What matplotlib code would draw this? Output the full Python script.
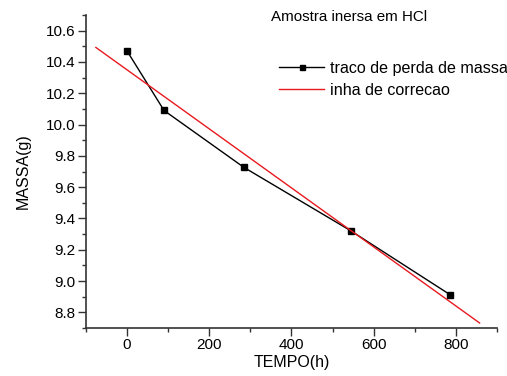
import matplotlib.pyplot as plt
from matplotlib.ticker import MultipleLocator

# data
tempo = [0, 90, 284, 544, 786]
massa = [10.47, 10.09, 9.727, 9.322, 8.913]

fit_x = [-76, 858]
fit_y = [10.493, 8.732]

plt.rcParams['font.family'] = ['Liberation Sans', 'DejaVu Sans']
plt.rcParams['font.size'] = 11

fig = plt.figure(figsize=(5.07, 3.76), dpi=100)
ax = fig.add_axes([0.1696, 0.1277, 0.8104, 0.8323])

ax.plot(tempo, massa, color='black', linewidth=1, marker='s', markersize=4.5,
        label='traco de perda de massa')
ax.plot(fit_x, fit_y, color='#e8191e', linewidth=1, label='inha de correcao')

ax.set_xlim(-100, 900)
ax.set_ylim(8.7, 10.7)
ax.xaxis.set_major_locator(MultipleLocator(200))
ax.xaxis.set_minor_locator(MultipleLocator(100))
ax.yaxis.set_major_locator(MultipleLocator(0.2))
ax.yaxis.set_minor_locator(MultipleLocator(0.1))
ax.yaxis.set_major_formatter(plt.FormatStrFormatter('%.1f'))

ax.spines['top'].set_visible(False)
ax.spines['right'].set_visible(False)
for s in ('left', 'bottom'):
    ax.spines[s].set_color('#333333')
    ax.spines[s].set_linewidth(1.2)
ax.tick_params(which='major', direction='out', length=5.5, width=1, color='#333333',
               labelsize=11, pad=2)
ax.tick_params(which='minor', direction='out', length=3, width=1, color='#333333')

ax.set_xlabel('TEMPO(h)', fontsize=11.5, labelpad=2)
ax.set_ylabel('MASSA(g)', fontsize=11.5, labelpad=11)

fig.text(0.535, 0.955, 'Amostra inersa em HCl', ha='left', va='center', fontsize=10.9)

ax.legend(loc='upper left', bbox_to_anchor=(0.455, 0.875), frameon=False,
          fontsize=11.6, handlelength=2.75, handletextpad=0.38, labelspacing=0.45,
          borderaxespad=0, markerscale=0.8)

fig.savefig('out.png', dpi=100)
